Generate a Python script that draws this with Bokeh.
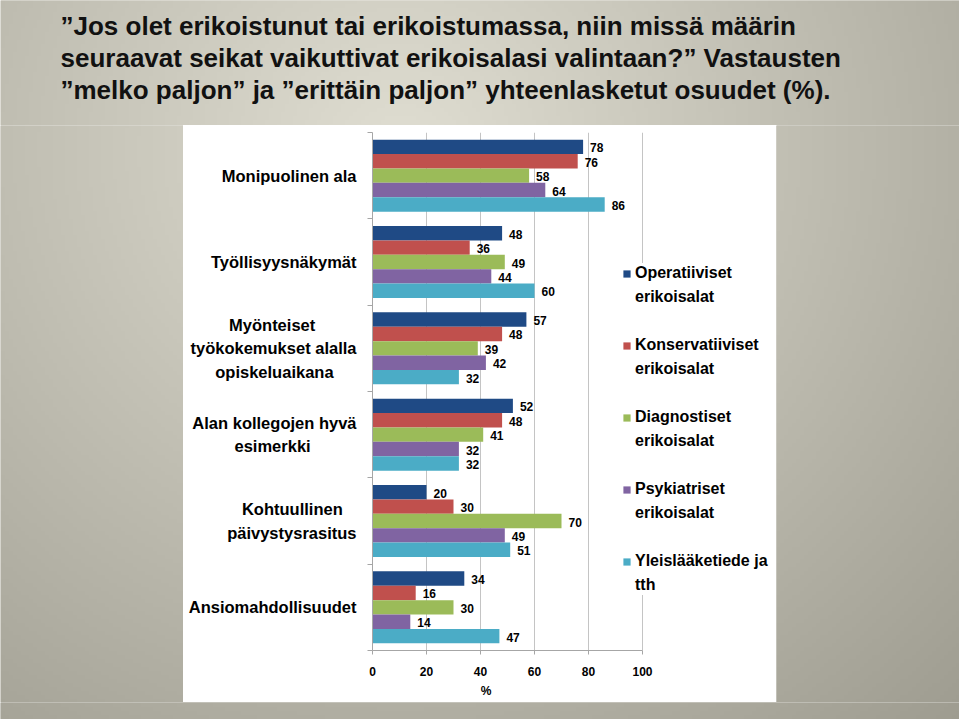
import numpy as np
from bokeh.plotting import figure
from bokeh.layouts import column, row
from bokeh.models import (ColumnDataSource, Range1d, FixedTicker, Label,
                          Legend, LegendItem)
from bokeh.transform import dodge
from bokeh.core.properties import value
from bokeh.embed import file_html
from bokeh.resources import INLINE

# ---------------- data ----------------
title_lines = [
    "\u201dJos olet erikoistunut tai erikoistumassa, niin missä määrin",
    "seuraavat seikat vaikuttivat erikoisalasi valintaan?\u201d Vastausten",
    "\u201dmelko paljon\u201d ja \u201derittäin paljon\u201d yhteenlasketut osuudet (%).",
]
categories = [
    "Monipuolinen ala",
    "Työllisyysnäkymät",
    "Myönteiset\ntyökokemukset alalla\nopiskeluaikana",
    "Alan kollegojen hyvä\nesimerkki",
    "Kohtuullinen\npäivystysrasitus",
    "Ansiomahdollisuudet",
]
series_names = [
    ["Operatiiviset", "erikoisalat"],
    ["Konservatiiviset", "erikoisalat"],
    ["Diagnostiset", "erikoisalat"],
    ["Psykiatriset", "erikoisalat"],
    ["Yleislääketiede ja", "tth"],
]
operatiiviset = [78, 48, 57, 52, 20, 34]
konservatiiviset = [76, 36, 48, 48, 30, 16]
diagnostiset = [58, 49, 39, 41, 70, 30]
psykiatriset = [64, 44, 42, 32, 49, 14]
yleislaaketiede = [86, 60, 32, 32, 51, 47]
x_ticks = [0, 20, 40, 60, 80, 100]
x_label = "%"

colors = ["#1F4A85", "#C0504D", "#9BBB59", "#8064A2", "#4BACC6"]
FONT = "Liberation Sans"

# ---------------- page geometry (px) ----------------
PW, PH = 959, 719            # whole slide
WX0, WY0, WX1, WY1 = 183, 125, 776, 702   # white chart panel
AX0, AX100, AYT, AYB = 372, 642, 132, 650  # plot area: x=0, x=100, top, bottom
PCT_X = 486                   # centre of the "%" axis title
TITLE_BASE = [25, 57, 89]     # title baselines (label anchor, px from top)

# Arial/Liberation Sans Bold advance widths (1/1000 em), used to centre lines
W = {" ": 278, "\u00a0": 278, "a": 556, "b": 611, "c": 556, "d": 611, "e": 556,
     "f": 333, "g": 611, "h": 611, "i": 278, "j": 278, "k": 556, "l": 278,
     "m": 889, "n": 611, "o": 611, "p": 611, "r": 389, "s": 556, "t": 333,
     "u": 611, "v": 556, "y": 556, "ä": 556, "ö": 611, "A": 722, "K": 722,
     "M": 833, "T": 611, "%": 889}


def tw(s):
    return sum(W.get(ch, 556) for ch in s)


def centred(label):
    lines = label.split("\n")
    m = max(tw(s) for s in lines)
    return "\n".join(s + "\u00a0" * round((m - tw(s)) / 2 / 278) for s in lines)


# ---------------- slide background gradient ----------------
def shade(X, Y):
    r = np.hypot(X - 400, (Y - 150) * 1.05)
    return np.clip(224 - 0.08 * r, 0, 255)


def hexcol(m):
    return "#%02x%02x%02x" % (int(m), int(m - 2), int(m - 14))


S = 4
gw, gh = (PW + S - 1) // S, (PH + S - 1) // S
ii, jj = np.meshgrid(np.arange(gw), np.arange(gh))
c = shade((ii + 0.5) * S, PH - (jj + 0.5) * S)     # row 0 = bottom of slide
img = np.empty((gh, gw), dtype=np.uint32)
view = img.view(dtype=np.uint8).reshape((gh, gw, 4))
view[:, :, 0] = c.astype(np.uint8)
view[:, :, 1] = np.clip(c - 2, 0, 255).astype(np.uint8)
view[:, :, 2] = np.clip(c - 14, 0, 255).astype(np.uint8)
view[:, :, 3] = 255
bg_src = ColumnDataSource(dict(image=[img], x=[0], y=[0], dw=[gw * S], dh=[gh * S]))


def gray_piece(X0, Y0, X1, Y1, fy):
    m = float(shade(np.array([(X0 + X1) / 2]), np.array([fy]))[0])
    fill = hexcol(m)
    f = figure(width=X1 - X0, height=Y1 - Y0, output_backend="svg",
               toolbar_location=None, title=None, x_range=Range1d(X0, X1),
               y_range=Range1d(PH - Y1, PH - Y0),
               min_border=0, min_border_left=0, min_border_right=0,
               min_border_top=0, min_border_bottom=0,
               x_axis_location=None, y_axis_location=None,
               outline_line_color=None, border_fill_color=fill,
               background_fill_color=fill, frame_align=False)
    f.grid.visible = False
    f.image_rgba(image="image", x="x", y="y", dw="dw", dh="dh", source=bg_src)
    return f


top = gray_piece(0, 0, PW, WY0, WY0 / 2)
left = gray_piece(0, WY0, WX0, WY1, WY0 + 8)
right = gray_piece(WX1, WY0, PW, WY1, WY0 + 8)
bottom = gray_piece(0, WY1, PW, PH, (WY1 + PH) / 2)

for base, line in zip(TITLE_BASE, title_lines):
    top.add_layout(Label(x=60, y=WY0 - base, x_units="screen",
                         y_units="screen", text=line, text_font=FONT,
                         text_font_style="bold", text_font_size="26px",
                         text_color="#111111", text_baseline="alphabetic",
                         text_align="left"))

# ---------------- chart ----------------
n = len(categories)
pos = [n - i - 0.5 for i in range(n)]

cols = ["operatiiviset", "konservatiiviset", "diagnostiset", "psykiatriset", "yleislaaketiede"]
vals = [operatiiviset, konservatiiviset, diagnostiset, psykiatriset, yleislaaketiede]
data = dict(pos=pos)
for cname, v in zip(cols, vals):
    data[cname] = v
    data[cname + "_lbl"] = [str(x) for x in v]
src = ColumnDataSource(data)

cw, ch = WX1 - WX0, WY1 - WY0
x_end = 100 * (WX1 - AX0) / (AX100 - AX0)   # frame extends under the legend
p = figure(width=cw, height=ch, output_backend="svg", toolbar_location=None,
           x_range=Range1d(0, x_end), y_range=Range1d(0, n),
           min_border_left=AX0 - WX0, min_border_right=0,
           min_border_top=AYT - WY0, min_border_bottom=WY1 - AYB,
           border_fill_color="white", background_fill_color="white",
           outline_line_color=None, frame_align=False)

axis_gray = "#a6a6a6"
xa = p.xaxis[0]
xa.bounds = (x_ticks[0], x_ticks[-1])
xa.ticker = FixedTicker(ticks=x_ticks, minor_ticks=[])
xa.major_label_text_font = FONT
xa.major_label_text_font_style = "bold"
xa.major_label_text_font_size = "12px"
xa.major_label_text_color = "black"
xa.axis_line_color = axis_gray
xa.major_tick_line_color = axis_gray
xa.major_tick_out = 4
xa.major_tick_in = 0
xa.minor_tick_line_color = None
xa.major_label_standoff = 12
# axis title sits left of the frame centre, as in the original
shift_px = ((AX0 + WX1) / 2 - PCT_X) * 2
xa.axis_label = x_label + "\u00a0" * round(shift_px / (0.278 * 12))
xa.axis_label_text_font = FONT
xa.axis_label_text_font_style = "bold"
xa.axis_label_text_font_size = "12px"
xa.axis_label_text_color = "black"
xa.axis_label_standoff = 5

ya = p.yaxis[0]
ya.ticker = FixedTicker(ticks=pos, minor_ticks=list(range(n + 1)))
ya.major_label_overrides = {pos[i]: centred(categories[i]) for i in range(n)}
ya.major_label_text_font = FONT
ya.major_label_text_font_style = "bold"
ya.major_label_text_font_size = "16.5px"
ya.major_label_text_color = "black"
ya.major_label_text_line_height = 1.3
ya.major_tick_out = 0
ya.major_tick_in = 0
ya.minor_tick_out = 5
ya.minor_tick_in = 0
ya.minor_tick_line_color = axis_gray
ya.axis_line_color = axis_gray
ya.major_label_standoff = 11

p.ygrid.grid_line_color = None
p.xgrid.ticker = FixedTicker(ticks=x_ticks, minor_ticks=[])
p.xgrid.grid_line_color = "#c4c4c4"
p.xgrid.grid_line_width = 1

bar_h = 0.1668
renderers = []
for k, (cname, color) in enumerate(zip(cols, colors)):
    off = (2 - k) * bar_h
    rr = p.hbar(y=dodge("pos", off), left=0, right=cname, height=bar_h, source=src,
                fill_color=color, line_color=None)
    renderers.append(rr)
    p.text(x=cname, y=dodge("pos", off), text=cname + "_lbl", source=src,
           x_offset=7, y_offset=1, text_baseline="middle", text_align="left",
           text_font=value(FONT), text_font_style="bold",
           text_font_size="12px", text_color="black")

# transparent renderer used for the continuation lines of legend labels
blank = p.hbar(y=[], left=[], right=[], height=bar_h, fill_alpha=0, line_alpha=0)

items = []
for k, (lines, rr) in enumerate(zip(series_names, renderers)):
    items.append(LegendItem(label=lines[0], renderers=[rr]))
    items.append(LegendItem(label=lines[1], renderers=[blank]))
    if k < len(series_names) - 1:
        items.append(LegendItem(label=" ", renderers=[blank]))

legend = Legend(items=items, location=(622 - AX0, AYB - 595), orientation="vertical",
                glyph_width=9, glyph_height=9, label_standoff=4,
                label_height=20, spacing=4, padding=10, margin=0,
                label_text_font=FONT, label_text_font_style="bold",
                label_text_font_size="16px", label_text_color="black",
                label_text_baseline="middle",
                border_line_color=None, background_fill_color="white",
                background_fill_alpha=1.0)
p.add_layout(legend)

layout = column(top, row(left, p, right, spacing=0), bottom, spacing=0)

open("out.html", "w").write(file_html(layout, INLINE))
